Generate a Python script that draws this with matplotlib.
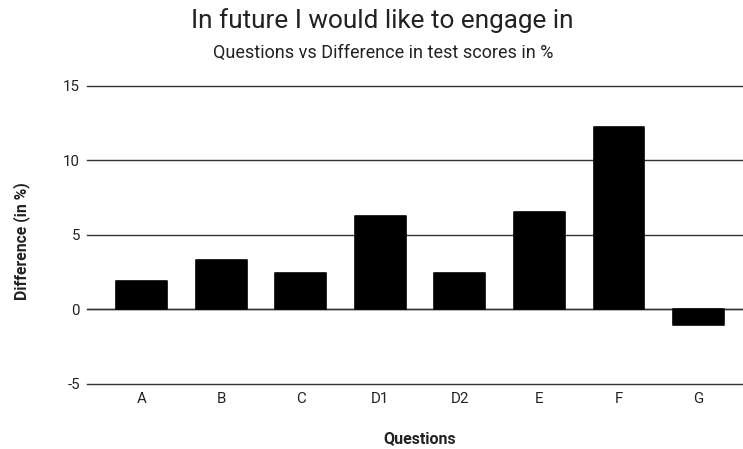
import matplotlib
matplotlib.use("Agg")
import matplotlib.pyplot as plt

categories = ["A", "B", "C", "D1", "D2", "E", "F", "G"]
values = [1.88, 3.32, 2.42, 6.25, 2.42, 6.54, 12.24, -1.05]
yticks = [-5, 0, 5, 10, 15]

plt.rcParams['font.family'] = ['Roboto', 'DejaVu Sans']

W, H = 743, 449
fig = plt.figure(figsize=(W / 100, H / 100), dpi=100)
left_px, right_px, top_px, bot_px = 87, 743, 85.7, 383.7
ax = fig.add_axes([left_px / W, 1 - bot_px / H, (right_px - left_px) / W, (bot_px - top_px) / H])

x = list(range(len(categories)))
ax.bar(x, values, width=0.64, color="black", edgecolor="black", linewidth=1.2,
       joinstyle="round", zorder=3)

ax.set_ylim(-5, 15)
ax.set_xlim(-0.69, 7.56)
ax.set_yticks(yticks)
ax.set_yticklabels([str(v) for v in yticks])
ax.set_xticks(x)
ax.set_xticklabels(categories)
ax.grid(axis="y", color="#333333", linewidth=1.0, zorder=1)
for gl in ax.get_ygridlines():
    gl.set_clip_on(False)
for s in ax.spines.values():
    s.set_visible(False)
ax.tick_params(axis="both", length=0, labelsize=10.8, colors="#222222")
ax.tick_params(axis="y", pad=5)
ax.tick_params(axis="x", pad=6)
ax.axhline(0, color="#333333", linewidth=1.0, zorder=2)

fig.text(420 / W, 1 - 443.3 / H, "Questions", ha="center", va="baseline",
         fontsize=11.5, fontweight="bold", color="#222222")
fig.text(21.7 / W, 1 - 241.5 / H, "Difference (in %)", ha="center", va="center", rotation=90,
         fontsize=11.3, fontweight="bold", color="#222222")

fig.text(382.5 / W, 1 - 28.3 / H, "In future I would like to engage in", ha="center", va="baseline",
         fontsize=18.8, color="#222222")
fig.text(383.3 / W, 1 - 58.3 / H, "Questions vs Difference in test scores in %", ha="center", va="baseline",
         fontsize=13, color="#222222")

fig.savefig("out.png", dpi=100, facecolor="white")
